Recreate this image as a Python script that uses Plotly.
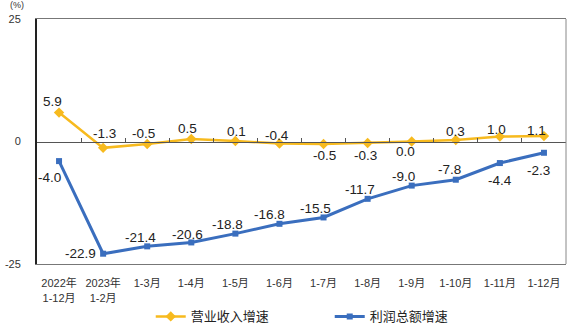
import plotly.graph_objects as go

categories = ["2022年<br>1-12月", "2023年<br>1-2月", "1-3月", "1-4月", "1-5月", "1-6月",
              "1-7月", "1-8月", "1-9月", "1-10月", "1-11月", "1-12月"]
revenue = [5.9, -1.3, -0.5, 0.5, 0.1, -0.4, -0.5, -0.3, 0.0, 0.3, 1.0, 1.1]
profit = [-4.0, -22.9, -21.4, -20.6, -18.8, -16.8, -15.5, -11.7, -9.0, -7.8, -4.4, -2.3]
y_ticks = [-25, 0, 25]

# label offsets (pixels) relative to each point: style only
rev_dx = [-7, 1, -4, -4, 1, -2, 1, -2, -6, 0, -3, -7]
rev_dy = [11, 14, 10, 11, 10, 8, -12, -13, -10, 9, 7, 6]
pro_dx = [-10, -23, -7, -4, -8, -10, -8, -8, -8, -6, 0, -5]
pro_dy = [-16, 0, 9, 8, 9, 9, 9, 9, 9, 10, -17, -18]

ORANGE = "#F7BA1E"
BLUE = "#3A6EBE"
num_font = "Liberation Sans, Arial, Noto Sans CJK SC"
cjk_font = "Noto Sans CJK SC"

fig = go.Figure()
fig.add_trace(go.Scatter(
    x=categories, y=revenue, name="营业收入增速", mode="lines+markers",
    line=dict(color=ORANGE, width=2.5), marker=dict(symbol="diamond", size=8, color=ORANGE),
))
fig.add_trace(go.Scatter(
    x=categories, y=profit, name="利润总额增速", mode="lines+markers",
    line=dict(color=BLUE, width=3), marker=dict(symbol="square", size=6, color=BLUE),
))
# dummy trace to host the zero-line axis with boundary ticks
fig.add_trace(go.Scatter(x=categories, y=[None] * len(categories), xaxis="x2",
                         showlegend=False, hoverinfo="skip"))

annotations = []
for vals, dxs, dys in ((revenue, rev_dx, rev_dy), (profit, pro_dx, pro_dy)):
    for c, v, dx, dy in zip(categories, vals, dxs, dys):
        annotations.append(dict(x=c, y=v, xref="x", yref="y", text=f"{v:.1f}", showarrow=False,
                                xanchor="center", yanchor="middle", xshift=dx, yshift=dy,
                                font=dict(size=13.5, family=num_font, color="#222")))
annotations.append(dict(text="(%)", xref="paper", yref="paper", x=-0.038, y=1,
                        xanchor="center", yanchor="bottom", yshift=7, showarrow=False,
                        font=dict(size=9, family=num_font, color="#333")))

fig.update_layout(
    width=571, height=336,
    margin=dict(l=37, r=5, t=19, b=69),
    plot_bgcolor="white", paper_bgcolor="white",
    font=dict(family=cjk_font, size=11, color="#222"),
    xaxis=dict(type="category", showline=True, linecolor="#777", linewidth=1, mirror=True,
               showgrid=False, ticks="", ticklabelstandoff=9,
               tickfont=dict(size=11, family=num_font, color="#333"),
               range=[-0.5, len(categories) - 0.5]),
    xaxis2=dict(type="category", overlaying="x", anchor="free", position=0.5, side="bottom",
                showline=True, linecolor="#555", linewidth=1, ticks="inside", ticklen=4,
                tickcolor="#555", tickson="boundaries", showticklabels=False, showgrid=False,
                matches="x"),
    yaxis=dict(range=[-25, 25], tickvals=y_ticks, ticktext=["-25", "0", "25"], showgrid=False,
               zeroline=False, showline=True, linecolor="#222", linewidth=2, mirror=False,
               ticks="", ticklabelstandoff=12,
               tickfont=dict(size=11, family=num_font, color="#333")),
    showlegend=True,
    legend=dict(orientation="h", x=0.215, xanchor="left", y=-0.214, yanchor="middle",
                entrywidth=134, entrywidthmode="pixels", itemwidth=30,
                font=dict(size=13, family=cjk_font, color="#222")),
    annotations=annotations,
)
fig.add_shape(type="line", xref="paper", yref="paper", x0=1, x1=1, y0=0, y1=1,
              line=dict(color="#888", width=1))

fig.write_html("out.html")
